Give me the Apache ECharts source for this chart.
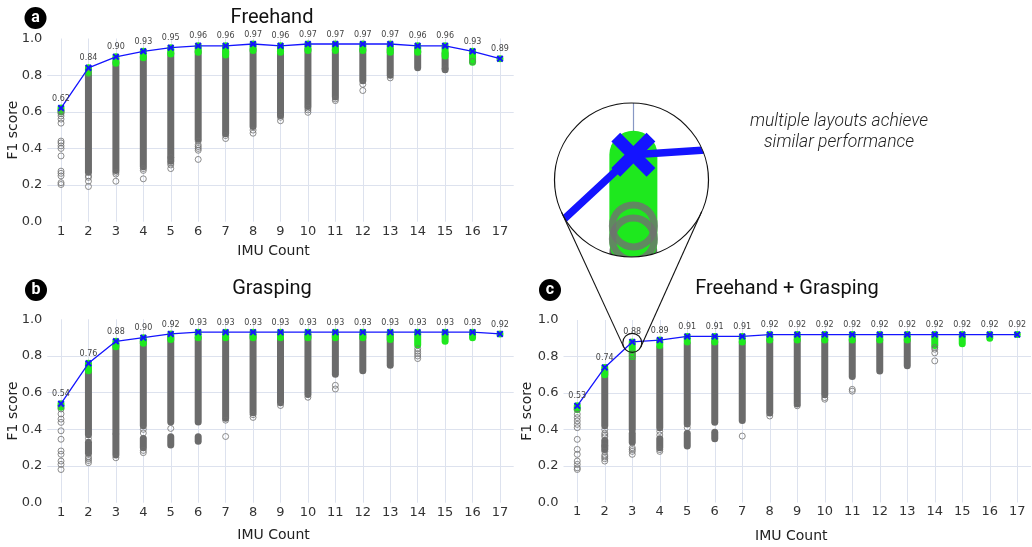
<!DOCTYPE html>
<html><head><meta charset="utf-8">
<script src="https://cdn.jsdelivr.net/npm/echarts@6/dist/echarts.min.js"></script>
<style>html,body{margin:0;padding:0;background:#fff}#c{width:1032px;height:547px}</style>
</head><body><div id="c"></div>
<script>
// ---------- data ----------
const imuCounts = [1,2,3,4,5,6,7,8,9,10,11,12,13,14,15,16,17];
const yLabelValues = [0,0.2,0.4,0.6,0.8,1.0];
const yGridValues = [0.2,0.4,0.6,0.8];

// (a) Freehand
const freeMax     = [0.62,0.84,0.90,0.93,0.95,0.96,0.96,0.97,0.96,0.97,0.97,0.97,0.97,0.96,0.96,0.93,0.89];
const freeGreenLo = [0.60,0.81,0.865,0.895,0.915,0.925,0.91,0.935,0.925,0.935,0.935,0.935,0.925,0.925,0.905,0.87,0.89];
const freeGrayLo  = [null,0.27,0.28,0.30,0.33,0.45,0.48,0.52,0.58,0.63,0.68,0.77,0.80,0.84,0.83,null,null];
const freeGrayHi  = [null,0.80,0.87,0.90,0.92,0.93,0.93,0.94,0.93,0.94,0.94,0.94,0.94,0.93,0.92,null,null];
const freeGray2Lo = [null,null,null,null,null,null,null,null,null,null,null,null,null,null,null,null,null];
const freeGray2Hi = [null,null,null,null,null,null,null,null,null,null,null,null,null,null,null,null,null];
const freeOutliers = [[1,0.60],[1,0.59],[1,0.577],[1,0.56],[1,0.538],[1,0.44],[1,0.43],[1,0.414],[1,0.40],[1,0.359],[1,0.276],[1,0.264],[1,0.25],[1,0.213],[1,0.203],
  [2,0.81],[2,0.25],[2,0.242],[2,0.221],[2,0.192],
  [3,0.27],[3,0.26],[3,0.221],
  [4,0.29],[4,0.28],[4,0.234],
  [5,0.35],[5,0.32],[5,0.31],[5,0.29],
  [6,0.44],[6,0.42],[6,0.41],[6,0.40],[6,0.39],[6,0.34],
  [7,0.47],[7,0.454],
  [8,0.50],[8,0.483],
  [9,0.57],[9,0.551],
  [10,0.62],[10,0.61],[10,0.597],
  [11,0.67],[11,0.661],
  [12,0.75],[12,0.716],
  [13,0.785],
  [15,0.835],
  [16,0.875]];

// (b) Grasping
const graspMax     = [0.54,0.76,0.88,0.90,0.92,0.93,0.93,0.93,0.93,0.93,0.93,0.93,0.93,0.93,0.93,0.93,0.92];
const graspGreenLo = [0.52,0.72,0.85,0.87,0.89,0.90,0.90,0.90,0.90,0.90,0.90,0.90,0.89,0.86,0.88,0.90,0.92];
const graspGrayLo  = [null,0.37,0.38,0.42,0.44,0.44,0.46,0.49,0.545,0.59,0.70,0.72,0.75,null,null,null,null];
const graspGrayHi  = [null,0.73,0.86,0.88,0.90,0.90,0.90,0.91,0.91,0.91,0.91,0.91,0.91,null,null,null,null];
const graspGray2Lo = [null,0.27,0.26,0.30,0.315,0.335,null,null,null,null,null,null,null,null,null,null,null];
const graspGray2Hi = [null,0.33,0.37,0.35,0.36,0.36,null,null,null,null,null,null,null,null,null,null,null];
const graspOutliers = [[1,0.511],[1,0.484],[1,0.456],[1,0.438],[1,0.392],[1,0.346],[1,0.282],[1,0.264],[1,0.227],[1,0.209],[1,0.181],
  [2,0.35],[2,0.25],[2,0.24],[2,0.23],[2,0.218],
  [3,0.245],
  [4,0.40],[4,0.38],[4,0.285],[4,0.273],
  [5,0.405],
  [7,0.45],[7,0.361],
  [8,0.48],[8,0.465],
  [9,0.53],
  [10,0.575],
  [11,0.64],[11,0.62],
  [14,0.84],[14,0.826],[14,0.813],[14,0.80],[14,0.786]];

// (c) Freehand + Grasping
const comboMax     = [0.53,0.74,0.88,0.89,0.91,0.91,0.91,0.92,0.92,0.92,0.92,0.92,0.92,0.92,0.92,0.92,0.92];
const comboGreenLo = [0.51,0.70,0.80,0.86,0.88,0.88,0.88,0.89,0.89,0.89,0.89,0.89,0.89,0.86,0.87,0.90,0.92];
const comboGrayLo  = [null,0.42,0.40,0.41,0.43,0.44,0.45,0.49,0.54,0.59,0.69,0.72,0.75,null,null,null,null];
const comboGrayHi  = [null,0.72,0.79,0.85,0.87,0.88,0.88,0.89,0.89,0.89,0.89,0.89,0.89,null,null,null,null];
const comboGray2Lo = [null,0.29,0.33,0.30,0.31,0.35,null,null,null,null,null,null,null,null,null,null,null];
const comboGray2Hi = [null,0.34,0.38,0.35,0.38,0.385,null,null,null,null,null,null,null,null,null,null,null];
const comboOutliers = [[1,0.511],[1,0.484],[1,0.465],[1,0.447],[1,0.428],[1,0.41],[1,0.346],[1,0.291],[1,0.264],[1,0.227],[1,0.209],[1,0.19],[1,0.181],
  [2,0.40],[2,0.38],[2,0.37],[2,0.36],[2,0.31],[2,0.28],[2,0.26],[2,0.25],[2,0.24],[2,0.227],
  [3,0.815],[3,0.803],[3,0.30],[3,0.29],[3,0.28],[3,0.264],
  [4,0.39],[4,0.37],[4,0.29],[4,0.28],
  [5,0.41],
  [7,0.364],
  [8,0.474],
  [9,0.53],
  [10,0.575],[10,0.566],
  [11,0.62],[11,0.61],
  [14,0.85],[14,0.84],[14,0.82],[14,0.776]];

// ---------- build ----------
const panels = [
  {max:freeMax, greenLo:freeGreenLo, grayLo:freeGrayLo, grayHi:freeGrayHi, gray2Lo:freeGray2Lo, gray2Hi:freeGray2Hi, outliers:freeOutliers},
  {max:graspMax, greenLo:graspGreenLo, grayLo:graspGrayLo, grayHi:graspGrayHi, gray2Lo:graspGray2Lo, gray2Hi:graspGray2Hi, outliers:graspOutliers},
  {max:comboMax, greenLo:comboGreenLo, grayLo:comboGrayLo, grayHi:comboGrayHi, gray2Lo:comboGray2Lo, gray2Hi:comboGray2Hi, outliers:comboOutliers}
];

const GRAY = '#6b6b6b', GREEN = '#1ee81e', BLUE = '#1414ff', GRID = '#dde2ee';
const xPath = 'path://M2,0 L5,3 L8,0 L10,2 L7,5 L10,8 L8,10 L5,7 L2,10 L0,8 L3,5 L0,2 Z';

function strip(lo, hi) {
  return imuCounts.map((x, i) => (lo[i] == null ? null : [x, lo[i], hi[i]])).filter(d => d);
}
function stripRender(w, fill) {
  return function (params, api) {
    const x = api.value(0);
    const top = api.coord([x, api.value(2)]);
    const bot = api.coord([x, api.value(1)]);
    return {type:'rect', shape:{x: top[0] - w/2, y: top[1] - w/2, width: w, height: bot[1] - top[1] + w, r: w/2}, style:{fill: fill}};
  };
}
function buildSeries(gi, p, st) {
  return [
    {type:'custom', xAxisIndex:gi, yAxisIndex:gi, data: strip(p.gray2Lo, p.gray2Hi), renderItem: stripRender(st.w, GRAY), clip:true, z:2, silent:true},
    {type:'custom', xAxisIndex:gi, yAxisIndex:gi, data: strip(p.grayLo, p.grayHi), renderItem: stripRender(st.w, GRAY), clip:true, z:2, silent:true},
    {type:'custom', xAxisIndex:gi, yAxisIndex:gi, data: strip(p.greenLo, p.max), renderItem: stripRender(st.w, GREEN), clip:true, z:3, silent:true},
    {type:'scatter', xAxisIndex:gi, yAxisIndex:gi, data: p.outliers, symbol:'circle', symbolSize: st.dot,
      itemStyle:{color:'rgba(255,255,255,0)', borderColor:'#707070', borderWidth: st.ring}, z:4, clip:true, silent:true},
    {type:'line', xAxisIndex:gi, yAxisIndex:gi, data: imuCounts.map((x, i) => [x, p.max[i]]),
      symbol: xPath, symbolSize: st.mark, showAllSymbol:true, lineStyle:{color:BLUE, width:st.lw}, itemStyle:{color:BLUE},
      label:{show:st.labels, position:'top', distance:2, fontSize:8, color:'#444', fontFamily:'DejaVu Sans',
        formatter: q => q.value[1].toFixed(2)}, z:5, clip:true, silent:true}
  ];
}
const mainStyle = {w:7, dot:6, ring:1, mark:7, lw:1.3, labels:true};
const insetStyle = {w:48, dot:42, ring:7, mark:44, lw:7.5, labels:false};

const grids = [
  {left:47.3, top:38.5, width:466.4, height:183.2},
  {left:47.3, top:319.3, width:466.4, height:183.4},
  {left:563.5, top:320, width:467.5, height:182.5},
  {left:554.5, top:103, width:154, height:154}
];
function mainX(gi, pad, gap) {
  return {type:'value', gridIndex:gi, min:0.5, max:17.5,
    axisLine:{show:false}, axisTick:{show:false, customValues:imuCounts},
    axisLabel:{customValues:imuCounts, fontSize:13, color:'#333', margin:3, fontFamily:'DejaVu Sans'},
    splitLine:{show:true, lineStyle:{color:GRID, width:1}},
    name:'IMU Count', nameLocation:'middle', nameGap:gap, nameMoveOverlap:false,
    nameTextStyle:{fontSize:14, color:'#222', fontFamily:'DejaVu Sans', padding:[0, pad, 0, 0]}};
}
function mainY(gi, gap) {
  return {type:'value', gridIndex:gi, min:0, max:1,
    axisLine:{show:false}, axisTick:{show:false, customValues:yGridValues},
    axisLabel:{customValues:yLabelValues, fontSize:13, color:'#333', margin:5, fontFamily:'DejaVu Sans',
      formatter: v => v.toFixed(1)},
    splitLine:{show:true, lineStyle:{color:GRID, width:1}},
    name:'F1 score', nameLocation:'middle', nameGap:gap, nameMoveOverlap:false,
    nameTextStyle:{fontSize:14, color:'#222', fontFamily:'DejaVu Sans'}};
}
// inset: 6x magnification around count 3 of panel c
const insetX0 = 2.522, insetY0 = 0.7866, mag = 6;
const insetXSpan = 154 / (27.5 * mag), insetYSpan = 154 / (182.5 * mag);

const option = {
  animation:false,
  backgroundColor:'#fff',
  grid: grids,
  xAxis: [mainX(0, 14, 23), mainX(1, 14, 26), mainX(2, 12, 27),
    {type:'value', gridIndex:3, min:insetX0, max:insetX0 + insetXSpan, axisLine:{show:false}, axisTick:{show:false, customValues:[3]},
      axisLabel:{show:false}, splitLine:{show:true, lineStyle:{color:'#8797c4', width:1.2}}}],
  yAxis: [mainY(0, 27), mainY(1, 27), mainY(2, 29),
    {type:'value', gridIndex:3, min:insetY0, max:insetY0 + insetYSpan, axisLine:{show:false}, axisTick:{show:false},
      axisLabel:{show:false}, splitLine:{show:false}}],
  series: [].concat(buildSeries(0, panels[0], mainStyle), buildSeries(1, panels[1], mainStyle),
    buildSeries(2, panels[2], mainStyle), buildSeries(3, panels[2], insetStyle))
};

const chart = echarts.init(document.getElementById('c'));
chart.setOption(option);

// ---------- annotations ----------
const big = {cx:631.5, cy:180, r:77};
const sp = chart.convertToPixel({gridIndex:2}, [3, comboMax[2]]);
const small = {cx: sp[0], cy: sp[1] + 1, r: 9.5};
function tangents() {
  const dx = small.cx - big.cx, dy = small.cy - big.cy, L = Math.hypot(dx, dy);
  const ux = dx / L, uy = dy / L, c = (big.r - small.r) / L, h = Math.sqrt(1 - c*c);
  const res = [];
  [1, -1].forEach(sg => {
    const nx = c*ux - sg*h*uy, ny = c*uy + sg*h*ux;
    res.push([[big.cx + big.r*nx, big.cy + big.r*ny], [small.cx + small.r*nx, small.cy + small.r*ny]]);
  });
  return res;
}
const tl = tangents();
function badge(x, y, letter) {
  return [
    {type:'circle', z:100, shape:{cx:x, cy:y, r:11}, style:{fill:'#000'}},
    {type:'text', z:101, x:x, y:y, style:{text:letter, fill:'#fff', font:'bold 16px Roboto', align:'center', verticalAlign:'middle'}}
  ];
}
function title(x, y, t) {
  return {type:'text', z:100, x:x, y:y, style:{text:t, fill:'#111', font:'20px Roboto', align:'center', verticalAlign:'middle'}};
}
const els = [
  {type:'circle', z:100, shape:{cx:big.cx, cy:big.cy, r:big.r + 17}, style:{fill:'none', stroke:'#fff', lineWidth:34}},
  {type:'circle', z:101, shape:{cx:big.cx, cy:big.cy, r:big.r}, style:{fill:'none', stroke:'#111', lineWidth:1.2}},
  {type:'circle', z:101, shape:{cx:small.cx, cy:small.cy, r:small.r}, style:{fill:'none', stroke:'#111', lineWidth:1.1}},
  {type:'line', z:101, shape:{x1:tl[0][0][0], y1:tl[0][0][1], x2:tl[0][1][0], y2:tl[0][1][1]}, style:{stroke:'#111', lineWidth:1.1}},
  {type:'line', z:101, shape:{x1:tl[1][0][0], y1:tl[1][0][1], x2:tl[1][1][0], y2:tl[1][1][1]}, style:{stroke:'#111', lineWidth:1.1}},
  {type:'text', z:101, x:839, y:122, style:{text:'multiple layouts achieve', fill:'#222', font:'italic 300 17.5px Roboto', align:'center', verticalAlign:'middle'}},
  {type:'text', z:101, x:839, y:143, style:{text:'similar performance', fill:'#222', font:'italic 300 17.5px Roboto', align:'center', verticalAlign:'middle'}},
  title(272, 18, 'Freehand'), title(272, 289, 'Grasping'), title(787, 289, 'Freehand + Grasping')
].concat(badge(35.5, 18, 'a'), badge(36, 290, 'b'), badge(550, 290, 'c'));
chart.setOption({graphic:{elements: els}});
</script>
</body></html>
